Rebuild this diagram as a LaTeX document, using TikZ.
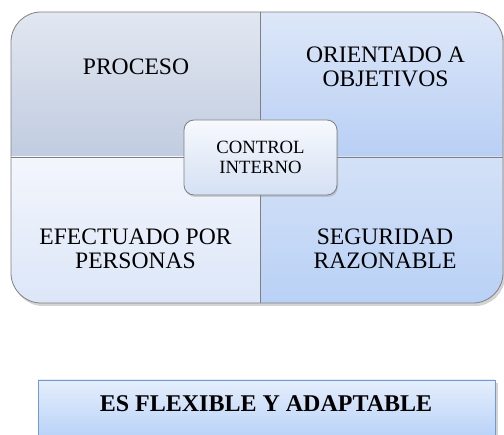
\documentclass[tikz,border=0pt]{standalone}
\usepackage{fontspec}
\setmainfont{Liberation Serif}
\definecolor{framegray}{RGB}{128,128,128}
\definecolor{greytop}{RGB}{226,231,241}
\definecolor{greybottom}{RGB}{193,204,224}
\definecolor{bluetop}{RGB}{221,231,248}
\definecolor{bluebottom}{RGB}{184,207,245}
\definecolor{paletop}{RGB}{243,246,252}
\definecolor{palebottom}{RGB}{220,230,248}
\definecolor{midtop}{RGB}{212,225,247}
\definecolor{midbottom}{RGB}{185,209,246}
\definecolor{centertop}{RGB}{247,249,253}
\definecolor{centerbottom}{RGB}{212,224,244}
\definecolor{flextop}{RGB}{229,238,252}
\definecolor{flexbottom}{RGB}{184,210,248}
\definecolor{flexborder}{RGB}{112,155,210}
\usetikzlibrary{shadows,positioning}

\tikzset{
  quad/.style={rectangle, inner sep=0pt, draw=none},
  quadtext/.style={align=center, font=\fontsize{23.6}{24}\selectfont},
  centerbox/.style={rectangle, rounded corners=10pt, draw=framegray, line width=0.8pt,
    top color=centertop, bottom color=centerbottom, minimum width=153pt, minimum height=75pt,
    align=center, font=\fontsize{18.7}{20}\selectfont,
    drop shadow={shadow xshift=1pt, shadow yshift=-2pt, opacity=0.3}},
  flexbox/.style={rectangle, draw=flexborder, line width=0.8pt,
    top color=flextop, bottom color=flexbottom, minimum width=457pt, minimum height=58pt,
    inner sep=0pt,
    drop shadow={shadow xshift=3pt, shadow yshift=-3pt, opacity=0.35}}
}

\begin{document}
\begin{tikzpicture}[x=1pt, y=-1pt]
    \useasboundingbox (0,0) rectangle (504,435);

    % marco exterior con sombra
    \path[rounded corners=30pt, fill=white, drop shadow={shadow xshift=2pt, shadow yshift=-3pt, opacity=0.35}]
        (11,12) rectangle (503,303);

    % cuadrantes
    \begin{scope}
        \clip[rounded corners=30pt] (11,12) rectangle (503,303);
        \node[quad, top color=greytop, bottom color=greybottom, minimum width=249pt, minimum height=145pt] (tl) at (135.5,84.5) {};
        \node[quad, top color=bluetop, bottom color=bluebottom, minimum width=243pt, minimum height=145pt] (tr) at (381.5,84.5) {};
        \node[quad, top color=paletop, bottom color=palebottom, minimum width=249pt, minimum height=146pt] (bl) at (135.5,230) {};
        \node[quad, top color=midtop, bottom color=midbottom, minimum width=243pt, minimum height=146pt] (br) at (381.5,230) {};
    \end{scope}
    \draw[framegray, line width=0.8pt] (tl.north east) -- (bl.south east);
    \draw[framegray, line width=0.8pt] (tl.south west) -- (tr.south east);
    \draw[framegray, line width=0.8pt, rounded corners=30pt] (11,12) rectangle (503,303);

    \node[quadtext] (proceso) at (136,66.7) {PROCESO};
    \node[quadtext] (objetivos) at (385.5,66.7) {ORIENTADO A\\OBJETIVOS};
    \node[quadtext] (personas) at (135.5,248.7) {EFECTUADO POR\\PERSONAS};
    \node[quadtext] (seguridad) at (385,248.7) {SEGURIDAD\\RAZONABLE};

    \node[centerbox] (control) at (260.5,157.5) {CONTROL\\INTERNO};

    % recuadro inferior
    \node[flexbox] (flexible) at (266.5,409) {};
    \node[font=\fontsize{24}{26}\selectfont\bfseries] (flextext) at (266,403.3) {ES FLEXIBLE Y ADAPTABLE};
\end{tikzpicture}
\end{document}
